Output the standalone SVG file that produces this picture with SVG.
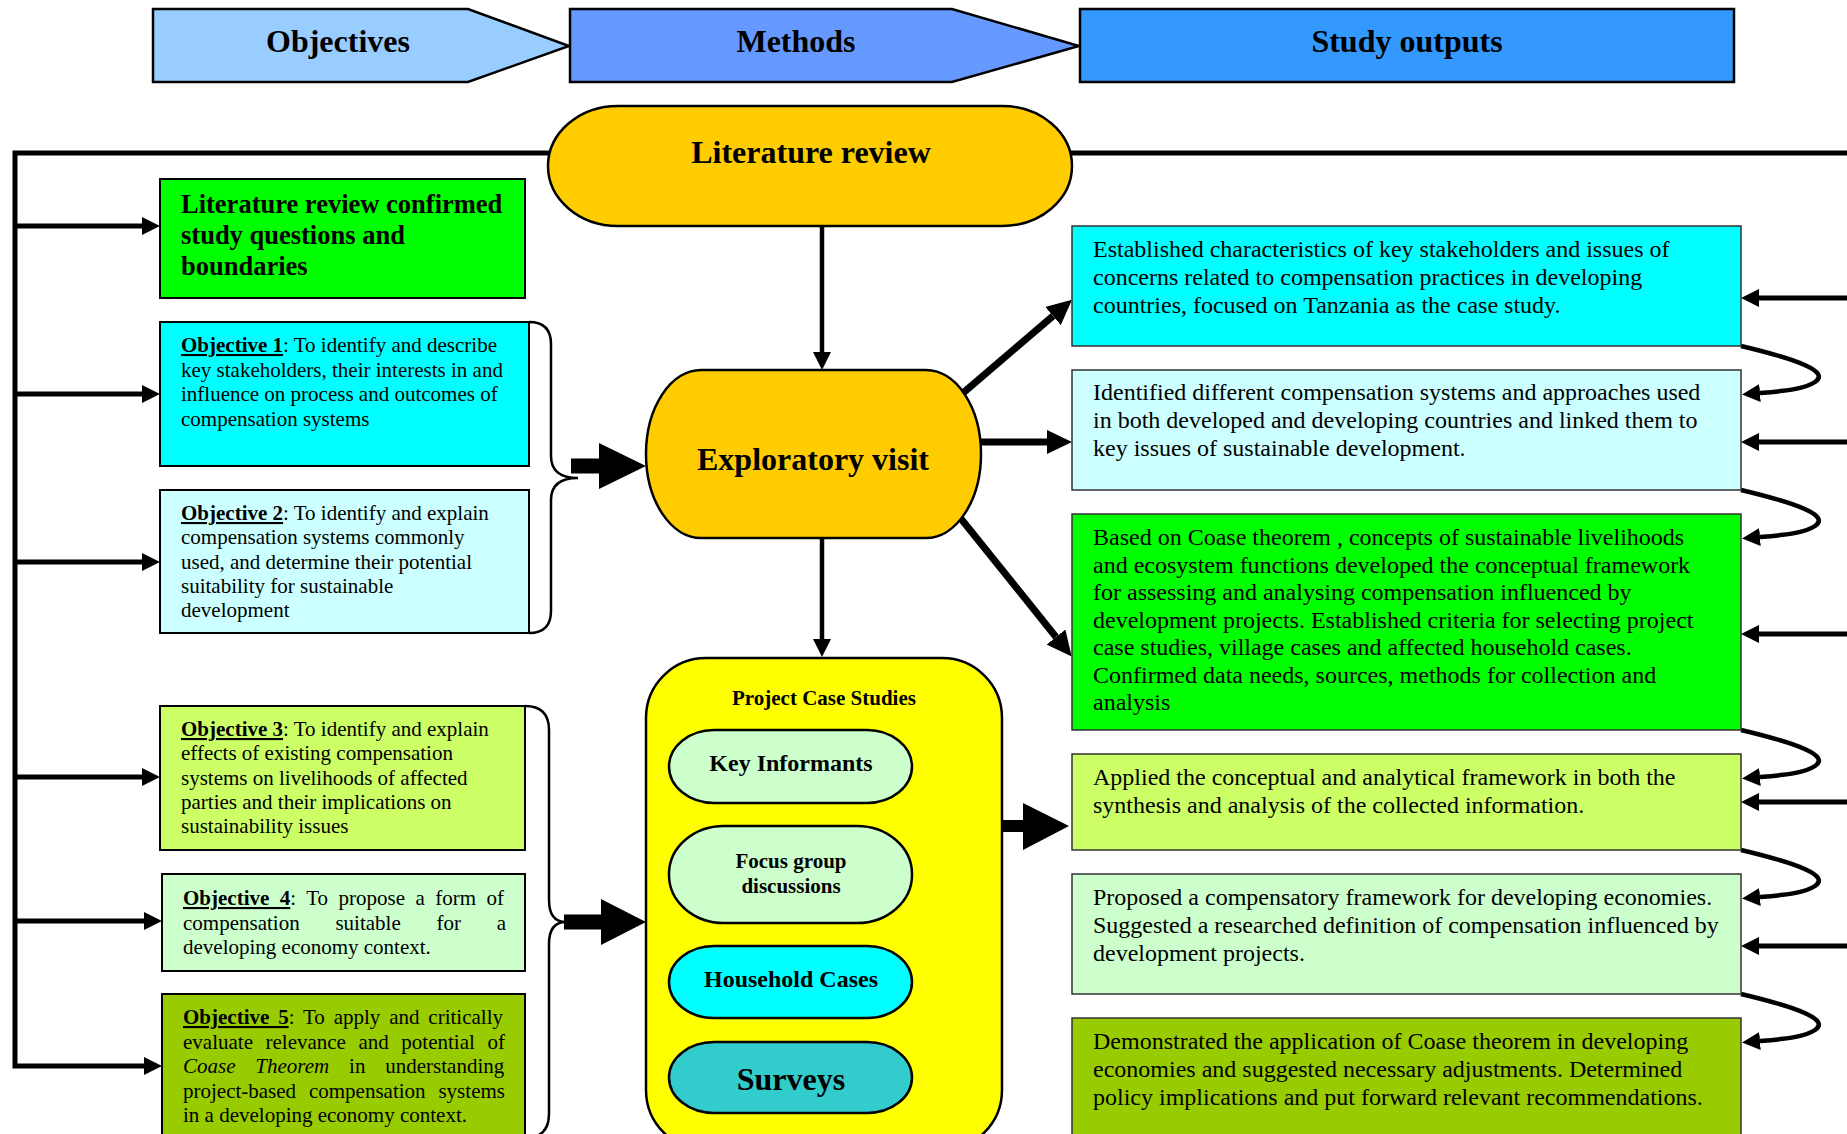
<svg xmlns="http://www.w3.org/2000/svg" width="1847" height="1134" viewBox="0 0 1847 1134">
  <defs>
    <style>
      text { font-family: "Liberation Serif", "Times New Roman", serif; fill: #000; }
      .hd { font-size: 32px; font-weight: bold; text-anchor: middle; }
      .obj { font-size: 21px; }
      .out { font-size: 24px; }
      .b { font-weight: bold; }
      .u { font-weight: bold; text-decoration: underline; }
      .i { font-style: italic; }
      .mid { text-anchor: middle; font-weight: bold; }
      .lb { stroke: #000; stroke-width: 2; }
      .rb { stroke: #333; stroke-width: 1.5; }
      .sh { stroke: #000; stroke-width: 2.5; }
      .ln { fill: none; stroke: #000; stroke-width: 5; }
      .th { fill: none; stroke: #000; stroke-width: 7; }
      .cv { fill: none; stroke: #000; stroke-width: 4.5; }
      .br { fill: none; stroke: #000; stroke-width: 2.5; }
    </style>
    <marker id="ah" markerUnits="userSpaceOnUse" viewBox="0 0 18 18" markerWidth="18" markerHeight="18" refX="0" refY="9" orient="auto">
      <path d="M0,0 L18,9 L0,18 z" fill="#000"/>
    </marker>
    <marker id="ahL" markerUnits="userSpaceOnUse" viewBox="0 0 25 24" markerWidth="25" markerHeight="24" refX="0" refY="12" orient="auto">
      <path d="M0,0 L25,12 L0,24 z" fill="#000"/>
    </marker>
    <marker id="ahS" markerUnits="userSpaceOnUse" viewBox="0 0 16 16" markerWidth="16" markerHeight="16" refX="0" refY="8" orient="auto-start-reverse">
      <path d="M0,0 L16,8 L0,16 z" fill="#000"/>
    </marker>
  </defs>

  <rect width="1847" height="1134" fill="#fff"/>

  <!-- column headers -->
  <g id="hdr-objectives">
    <polygon points="153,9 468,9 569,46 468,82 153,82" fill="#99CCFF" class="sh"/>
    <text x="338" y="52" class="hd">Objectives</text>
  </g>
  <g id="hdr-methods">
    <polygon points="570,9 952,9 1079,46 952,82 570,82" fill="#6699FF" class="sh"/>
    <text x="796" y="52" class="hd">Methods</text>
  </g>
  <g id="hdr-outputs">
    <rect x="1080" y="9" width="654" height="73" fill="#3399FF" class="sh"/>
    <text x="1407" y="52" class="hd">Study outputs</text>
  </g>

  <!-- connectors -->
  <g id="connectors">
    <!-- feedback frame: top rail, left rail and branches -->
    <path class="ln" d="M1850,153 H15 V1066 H144" marker-end="url(#ah)"/>
    <line class="ln" x1="15" y1="226" x2="142" y2="226" marker-end="url(#ah)"/>
    <line class="ln" x1="15" y1="394" x2="142" y2="394" marker-end="url(#ah)"/>
    <line class="ln" x1="15" y1="562" x2="142" y2="562" marker-end="url(#ah)"/>
    <line class="ln" x1="15" y1="777" x2="142" y2="777" marker-end="url(#ah)"/>
    <line class="ln" x1="15" y1="921" x2="144" y2="921" marker-end="url(#ah)"/>

    <!-- right rail branches into outputs -->
    <line class="ln" x1="1850" y1="298" x2="1759" y2="298" marker-end="url(#ah)"/>
    <line class="ln" x1="1850" y1="442" x2="1759" y2="442" marker-end="url(#ah)"/>
    <line class="ln" x1="1850" y1="634" x2="1759" y2="634" marker-end="url(#ah)"/>
    <line class="ln" x1="1850" y1="802" x2="1759" y2="802" marker-end="url(#ah)"/>
    <line class="ln" x1="1850" y1="946" x2="1759" y2="946" marker-end="url(#ah)"/>

    <!-- chaining curves between outputs -->
    <path class="cv" d="M1741,346 C1800,360 1830,372 1815,382 C1805,389 1785,391 1760,393" marker-end="url(#ah)"/>
    <path class="cv" d="M1741,490 C1800,504 1830,516 1815,526 C1805,533 1785,535 1760,537" marker-end="url(#ah)"/>
    <path class="cv" d="M1741,730 C1800,744 1830,756 1815,766 C1805,773 1785,775 1760,777" marker-end="url(#ah)"/>
    <path class="cv" d="M1741,850 C1800,864 1830,876 1815,886 C1805,893 1785,895 1760,897" marker-end="url(#ah)"/>
    <path class="cv" d="M1741,994 C1800,1008 1830,1020 1815,1030 C1805,1037 1785,1039 1760,1041" marker-end="url(#ah)"/>

    <!-- literature review -> exploratory visit -> case studies -->
    <line x1="822" y1="226" x2="822" y2="352" stroke="#000" stroke-width="4.5" marker-end="url(#ah)"/>
    <line x1="822" y1="538" x2="822" y2="639" stroke="#000" stroke-width="4.5" marker-end="url(#ah)"/>

    <!-- exploratory visit -> outputs -->
    <line class="th" x1="963" y1="393" x2="1053" y2="316" marker-end="url(#ahL)"/>
    <line class="th" x1="981" y1="442" x2="1047" y2="442" marker-end="url(#ahL)"/>
    <line class="th" x1="958" y1="515" x2="1056" y2="637" marker-end="url(#ahL)"/>

    <!-- objective braces -->
    <path class="br" d="M529,322 Q551,322 551,344 V456 Q551,478 578,478 Q551,478 551,500 V611 Q551,633 529,633"/>
    <path class="br" d="M525,706 Q549,706 549,730 V900 Q549,922 566,922 Q549,922 549,944 V1114 Q549,1138 525,1138"/>

    <!-- block arrows -->
    <polygon points="571,458.5 599,458.5 599,443 646,466 599,489 599,473.5 571,473.5" fill="#000"/>
    <polygon points="564,914.5 601,914.5 601,899 646,922 601,945 601,929.5 564,929.5" fill="#000"/>
    <polygon points="1002,820 1023,820 1023,803 1069,826 1023,850 1023,832 1002,832" fill="#000"/>

    <!-- links between case study methods -->
    <path class="cv" stroke-width="4" d="M927,764 C970,790 995,808 982,822 C972,833 950,839 927,845" marker-start="url(#ahS)" marker-end="url(#ahS)"/>
    <path class="cv" stroke-width="4" d="M927,884 C970,910 995,928 982,942 C972,953 950,959 927,965" marker-start="url(#ahS)" marker-end="url(#ahS)"/>
    <path class="cv" stroke-width="6" d="M912,994 C965,1020 1000,1045 985,1062 C975,1075 950,1080 929,1085" marker-end="url(#ahS)"/>
  </g>

  <!-- method nodes -->
  <g id="literature-review">
    <rect x="548" y="106" width="524" height="120" rx="70" ry="60" fill="#FFCC00" class="sh"/>
    <text x="811" y="163" class="hd">Literature review</text>
  </g>
  <g id="exploratory-visit">
    <rect x="646" y="370" width="335" height="168" rx="55" ry="84" fill="#FFCC00" class="sh"/>
    <text x="813" y="470" class="hd">Exploratory visit</text>
  </g>
  <g id="project-case-studies">
    <rect x="646" y="658" width="356" height="492" rx="60" ry="60" fill="#FFFF00" class="sh"/>
    <text x="824" y="705" class="mid" font-size="21">Project Case Studies</text>
  </g>
  <g id="key-informants">
    <rect x="669" y="730" width="243" height="73" rx="45" ry="36.5" fill="#CCFFCC" class="sh"/>
    <text x="791" y="771" class="mid" font-size="24">Key Informants</text>
  </g>
  <g id="focus-groups">
    <rect x="669" y="826" width="243" height="97" rx="55" ry="48" fill="#CCFFCC" class="sh"/>
    <text x="791" y="868" class="mid" font-size="21">Focus group</text>
    <text x="791" y="893" class="mid" font-size="21">discussions</text>
  </g>
  <g id="household-cases">
    <rect x="669" y="946" width="243" height="72" rx="45" ry="36" fill="#00FFFF" class="sh"/>
    <text x="791" y="987" class="mid" font-size="24">Household Cases</text>
  </g>
  <g id="surveys">
    <rect x="669" y="1042" width="243" height="71" rx="45" ry="35.5" fill="#33CCCC" class="sh"/>
    <text x="791" y="1090" class="mid" font-size="32">Surveys</text>
  </g>

  <!-- objective nodes -->
  <g id="lit-confirmed">
    <rect x="160" y="179" width="365" height="119" fill="#00FF00" class="lb"/>
    <text class="b" font-size="26.5">
      <tspan x="181" y="213">Literature review confirmed</tspan>
      <tspan x="181" y="244">study questions and</tspan>
      <tspan x="181" y="275">boundaries</tspan>
    </text>
  </g>
  <g id="objective-1">
    <rect x="160" y="322" width="369" height="144" fill="#00FFFF" class="lb"/>
    <text class="obj">
      <tspan x="181" y="352"><tspan class="u">Objective 1</tspan>: To identify and describe</tspan>
      <tspan x="181" y="376.6">key stakeholders, their interests in and</tspan>
      <tspan x="181" y="401.2">influence on process and outcomes of</tspan>
      <tspan x="181" y="425.8">compensation systems</tspan>
    </text>
  </g>
  <g id="objective-2">
    <rect x="160" y="490" width="369" height="143" fill="#CCFFFF" class="lb"/>
    <text class="obj">
      <tspan x="181" y="520"><tspan class="u">Objective 2</tspan>: To identify and explain</tspan>
      <tspan x="181" y="544.3">compensation systems commonly</tspan>
      <tspan x="181" y="568.6">used, and determine their potential</tspan>
      <tspan x="181" y="592.9">suitability for sustainable</tspan>
      <tspan x="181" y="617.2">development</tspan>
    </text>
  </g>
  <g id="objective-3">
    <rect x="160" y="706" width="365" height="144" fill="#CCFF66" class="lb"/>
    <text class="obj">
      <tspan x="181" y="736"><tspan class="u">Objective 3</tspan>: To identify and explain</tspan>
      <tspan x="181" y="760.3">effects of existing compensation</tspan>
      <tspan x="181" y="784.6">systems on livelihoods of affected</tspan>
      <tspan x="181" y="808.9">parties and their implications on</tspan>
      <tspan x="181" y="833.2">sustainability issues</tspan>
    </text>
  </g>
  <g id="objective-4">
    <rect x="162" y="874" width="363" height="97" fill="#CCFFCC" class="lb"/>
    <text class="obj" x="183" y="905" word-spacing="5.2"><tspan class="u">Objective 4</tspan>: To propose a form of</text>
    <text class="obj" x="183" y="929.5" word-spacing="30.5">compensation suitable for a</text>
    <text class="obj" x="183" y="954">developing economy context.</text>
  </g>
  <g id="objective-5">
    <rect x="162" y="994" width="363" height="150" fill="#99CC00" class="lb"/>
    <text class="obj" x="183" y="1024" word-spacing="3.6"><tspan class="u">Objective 5</tspan>: To apply and critically</text>
    <text class="obj" x="183" y="1048.5" word-spacing="7.3">evaluate relevance and potential of</text>
    <text class="obj" x="183" y="1073" word-spacing="14.6"><tspan class="i">Coase Theorem</tspan> in understanding</text>
    <text class="obj" x="183" y="1097.5" word-spacing="7.6">project-based compensation systems</text>
    <text class="obj" x="183" y="1122">in a developing economy context.</text>
  </g>

  <!-- output nodes -->
  <g id="output-1">
    <rect x="1072" y="226" width="669" height="120" fill="#00FFFF" class="rb"/>
    <text class="out">
      <tspan x="1093" y="257">Established characteristics of key stakeholders and issues of</tspan>
      <tspan x="1093" y="285">concerns related to compensation practices in developing</tspan>
      <tspan x="1093" y="313">countries, focused on Tanzania as the case study.</tspan>
    </text>
  </g>
  <g id="output-2">
    <rect x="1072" y="370" width="669" height="120" fill="#CCFFFF" class="rb"/>
    <text class="out">
      <tspan x="1093" y="400">Identified different compensation systems and approaches used</tspan>
      <tspan x="1093" y="428">in both developed and developing countries and linked them to</tspan>
      <tspan x="1093" y="456">key issues of sustainable development.</tspan>
    </text>
  </g>
  <g id="output-3">
    <rect x="1072" y="514" width="669" height="216" fill="#00FF00" class="rb"/>
    <text class="out">
      <tspan x="1093" y="545">Based on Coase theorem , concepts of sustainable livelihoods</tspan>
      <tspan x="1093" y="572.5">and ecosystem functions developed the conceptual framework</tspan>
      <tspan x="1093" y="600">for assessing and analysing compensation influenced by</tspan>
      <tspan x="1093" y="627.5">development projects. Established criteria for selecting project</tspan>
      <tspan x="1093" y="655">case studies, village cases and affected household cases.</tspan>
      <tspan x="1093" y="682.5">Confirmed data needs, sources, methods for collection and</tspan>
      <tspan x="1093" y="710">analysis</tspan>
    </text>
  </g>
  <g id="output-4">
    <rect x="1072" y="754" width="669" height="96" fill="#CCFF66" class="rb"/>
    <text class="out">
      <tspan x="1093" y="785">Applied the conceptual and analytical framework in both the</tspan>
      <tspan x="1093" y="813">synthesis and analysis of the collected information.</tspan>
    </text>
  </g>
  <g id="output-5">
    <rect x="1072" y="874" width="669" height="120" fill="#CCFFCC" class="rb"/>
    <text class="out">
      <tspan x="1093" y="905">Proposed a compensatory framework for developing economies.</tspan>
      <tspan x="1093" y="933">Suggested a researched definition of compensation influenced by</tspan>
      <tspan x="1093" y="961">development projects.</tspan>
    </text>
  </g>
  <g id="output-6">
    <rect x="1072" y="1018" width="669" height="130" fill="#99CC00" class="rb"/>
    <text class="out">
      <tspan x="1093" y="1049">Demonstrated the application of Coase theorem in developing</tspan>
      <tspan x="1093" y="1077">economies and suggested necessary adjustments. Determined</tspan>
      <tspan x="1093" y="1105">policy implications and put forward relevant recommendations.</tspan>
    </text>
  </g>
</svg>
